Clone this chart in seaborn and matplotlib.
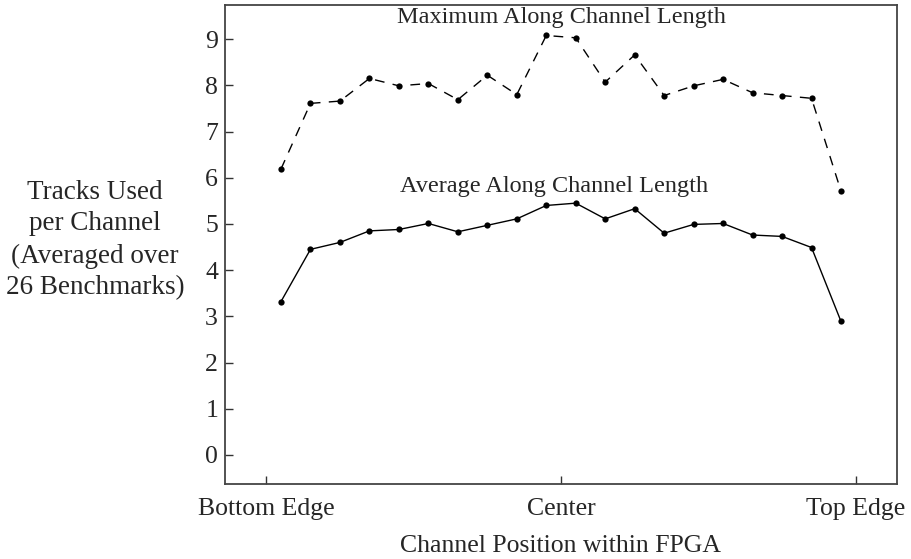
import numpy as np
import pandas as pd
import matplotlib
matplotlib.use("Agg")
import matplotlib.pyplot as plt
import seaborn as sns

# Channel index along FPGA (0 = bottom edge ... 19 = top edge)
positions = list(range(20))
maximum = [6.19, 7.61, 7.66, 8.15, 7.99, 8.04, 7.69, 8.22, 7.80, 9.08,
           9.03, 8.07, 8.66, 7.78, 7.99, 8.13, 7.84, 7.78, 7.72, 5.71]
average = [3.32, 4.45, 4.60, 4.85, 4.88, 5.01, 4.83, 4.97, 5.11, 5.40,
           5.45, 5.11, 5.33, 4.80, 4.99, 5.01, 4.76, 4.73, 4.49, 2.89]
xtick_pos = [-0.5, 9.5, 19.5]
xtick_labels = ["Bottom Edge", "Center", "Top Edge"]
ytick_vals = list(range(10))

sns.set_theme(style="white")
plt.rcParams['font.family'] = ['Liberation Serif', 'DejaVu Serif']

FS = 17.5
fig = plt.figure(figsize=(9.11, 5.59), dpi=100)
ax = fig.add_axes([225/911, 1-484/559, (897-225)/911, (484-5)/559])

df = pd.DataFrame({"pos": positions, "max": maximum, "avg": average})
sns.lineplot(data=df, x="pos", y="max", ax=ax, color="black", linewidth=1.0,
             marker="o", markersize=4.5, markeredgewidth=0)
ax.lines[-1].set_dashes([7, 6])
sns.lineplot(data=df, x="pos", y="avg", ax=ax, color="black", linewidth=1.0,
             marker="o", markersize=4.5, markeredgewidth=0)

ax.set_xlim(-1.9, 20.9)
ax.set_ylim(-0.63, 9.74)
ax.set_xticks(xtick_pos)
ax.set_xticklabels(xtick_labels)
ax.set_yticks(ytick_vals)
ax.tick_params(axis='both', direction='in', length=6, width=1, color='#333333',
               labelsize=18.5, bottom=True, left=True, top=False, right=False, pad=5)
ax.tick_params(axis='x', pad=10)
for s in ax.spines.values():
    s.set_visible(True)
    s.set_color('#444444')
    s.set_linewidth(1.3)

ax.set_xlabel("Channel Position within FPGA", fontsize=18.5, labelpad=11)
ax.set_ylabel("")
fig.text(95/911, 1-240/559, "Tracks Used\nper Channel\n(Averaged over\n26 Benchmarks)",
         ha='center', va='center', fontsize=19.5, linespacing=1.36)

ax.text(9.5, 9.48, "Maximum Along Channel Length", ha='center', va='center', fontsize=FS)
ax.text(9.25, 5.82, "Average Along Channel Length", ha='center', va='center', fontsize=FS)

fig.savefig("out.png", dpi=100)
